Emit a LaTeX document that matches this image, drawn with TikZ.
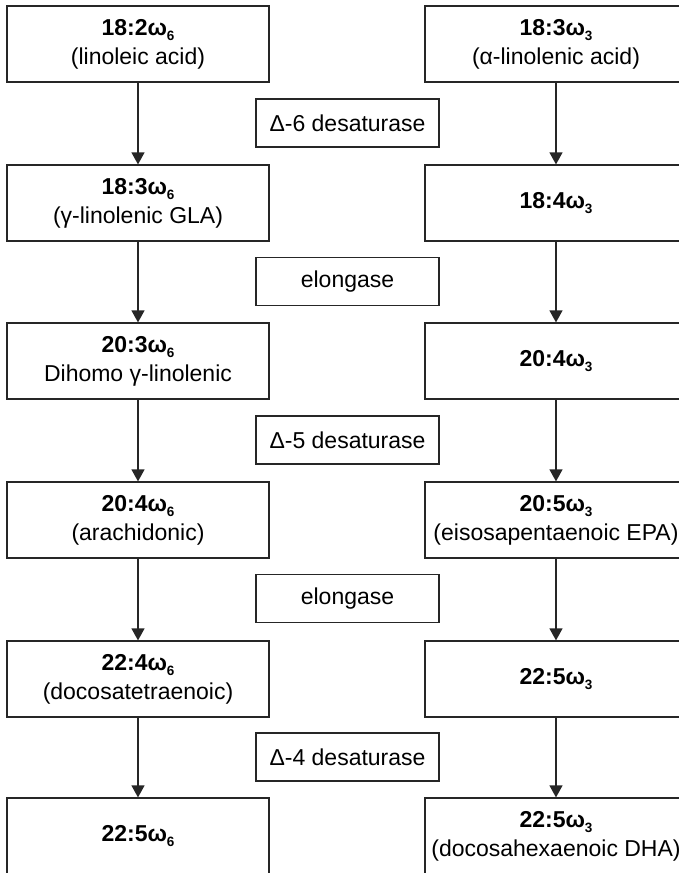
\documentclass[tikz,border=0pt]{standalone}
\usepackage{fontspec}
\setmainfont{Liberation Sans}
\usetikzlibrary{arrows.meta}
\newcommand{\fa}[2]{\textbf{#1ω\raisebox{-0.22em}{\fontsize{13.5}{13.5}\selectfont #2}}}
\begin{document}
\begin{tikzpicture}[x=1pt,y=-1pt,
  box/.style={draw=black!85, line width=1.2pt, minimum width=262pt, minimum height=76pt, align=center, font=\fontsize{23}{29}\selectfont, inner sep=0pt},
  enz/.style={draw=black!85, line width=1.2pt, minimum width=183pt, minimum height=48pt, font=\fontsize{23}{29}\selectfont, inner sep=0pt},
  arr/.style={draw=black!85, line width=1.2pt, -{Triangle[length=12pt,width=13pt]}}]
\useasboundingbox (0,0) rectangle (679,873);
% left column
\node[box] (l1) at (138,44)  {\fa{18:2}{6}\\(linoleic acid)};
\node[box] (l2) at (138,203) {\fa{18:3}{6}\\(γ-linolenic GLA)};
\node[box] (l3) at (138,361) {\fa{20:3}{6}\\Dihomo γ-linolenic};
\node[box] (l4) at (138,520) {\fa{20:4}{6}\\(arachidonic)};
\node[box] (l5) at (138,679) {\fa{22:4}{6}\\(docosatetraenoic)};
\node[box] (l6) at (138,836) {\fa{22:5}{6}};
% right column (its right side runs past the page edge)
\node[box] (r1) at (556,44)  {\fa{18:3}{3}\\(α-linolenic acid)};
\node[box] (r2) at (556,203) {\fa{18:4}{3}};
\node[box] (r3) at (556,361) {\fa{20:4}{3}};
\node[box] (r4) at (556,520) {\fa{20:5}{3}\\(eisosapentaenoic EPA)};
\node[box] (r5) at (556,679) {\fa{22:5}{3}};
\node[box] (r6) at (556,836) {\fa{22:5}{3}\\(docosahexaenoic DHA)};
% enzymes
\node[enz] (e1) at (347.5,123)   {Δ-6 desaturase};
\node[enz] (e2) at (347.5,281.5) {elongase};
\node[enz] (e3) at (347.5,440)   {Δ-5 desaturase};
\node[enz] (e4) at (347.5,598.5) {elongase};
\node[enz] (e5) at (347.5,757)   {Δ-4 desaturase};
% arrows
\foreach \a/\b in {l1/l2,l2/l3,l3/l4,l4/l5,l5/l6,r1/r2,r2/r3,r3/r4,r4/r5,r5/r6}
  \draw[arr] (\a.south) -- (\b.north);
\end{tikzpicture}
\end{document}
